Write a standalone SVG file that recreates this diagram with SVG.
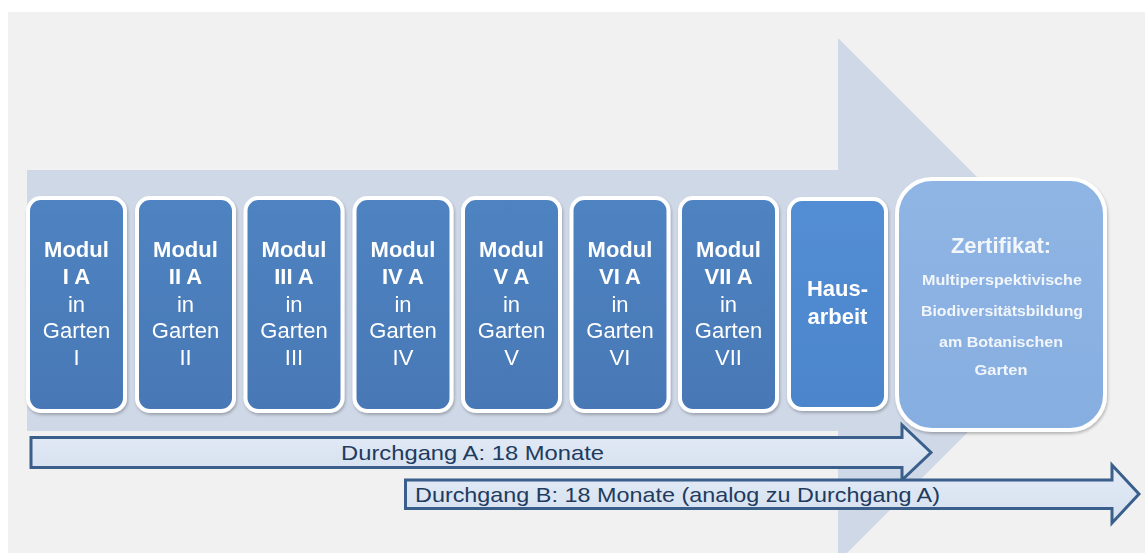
<svg xmlns="http://www.w3.org/2000/svg" width="1145" height="553" viewBox="0 0 1145 553">
<style>
.mod{fill:url(#gMod);stroke:#ffffff;stroke-width:4}
.haus{fill:url(#gHaus);stroke:#ffffff;stroke-width:4}
.zert{fill:url(#gZert);stroke:#ffffff;stroke-width:4}
.dg{fill:url(#gDg);stroke:#3a5f8b;stroke-width:3;stroke-linejoin:miter}
.tb{font-family:"Liberation Sans",Arial,sans-serif;font-weight:bold;font-size:22px;fill:#ffffff;text-anchor:middle}
.tr{font-family:"Liberation Sans",Arial,sans-serif;font-size:22px;fill:#ffffff;text-anchor:middle}
.zs{font-family:"Liberation Sans",Arial,sans-serif;font-weight:bold;font-size:15px;fill:#f2f6fb;text-anchor:middle}
.zt{font-family:"Liberation Sans",Arial,sans-serif;font-weight:bold;font-size:22px;fill:#f2f6fb;text-anchor:middle}
.dt{font-family:"Liberation Sans",Arial,sans-serif;font-size:21px;fill:#1f3b5e}
</style>
<defs>
<linearGradient id="gMod" x1="0" y1="0" x2="0" y2="1"><stop offset="0" stop-color="#4f83c1"/><stop offset="1" stop-color="#4778b5"/></linearGradient>
<linearGradient id="gHaus" x1="0" y1="0" x2="0" y2="1"><stop offset="0" stop-color="#538ed5"/><stop offset="1" stop-color="#4c85cb"/></linearGradient>
<linearGradient id="gZert" x1="0" y1="0" x2="0" y2="1"><stop offset="0" stop-color="#8fb5e4"/><stop offset="1" stop-color="#86aee0"/></linearGradient>
<linearGradient id="gDg" x1="0" y1="0" x2="0" y2="1"><stop offset="0" stop-color="#e3ebf6"/><stop offset="1" stop-color="#d5e0ef"/></linearGradient>
<filter id="sh" x="-10%" y="-10%" width="130%" height="130%"><feGaussianBlur in="SourceAlpha" stdDeviation="1.5"/><feOffset dx="1" dy="1.5" result="b"/><feComponentTransfer><feFuncA type="linear" slope="0.25"/></feComponentTransfer><feMerge><feMergeNode/><feMergeNode in="SourceGraphic"/></feMerge></filter>
</defs>
<rect x="0" y="0" width="1145" height="553" fill="#ffffff"/>
<rect x="8" y="12" width="1137" height="541" fill="#f1f1f1"/>
<g id="connectors">
<polygon id="timeline" points="27,170 838,170 838,38 1100,300 838,562 838,431 27,431" fill="#cfd8e7"/>
</g>
<g id="modul1" filter="url(#sh)"><rect class="mod" x="28" y="198" width="97" height="213" rx="13"/>
<text class="tb" x="76.5" y="257">Modul</text><text class="tb" x="76.5" y="284">I A</text><text class="tr" x="76.5" y="312">in</text><text class="tr" x="76.5" y="338">Garten</text><text class="tr" x="76.5" y="365">I</text></g>
<g id="modul2" filter="url(#sh)"><rect class="mod" x="137" y="198" width="97" height="213" rx="13"/>
<text class="tb" x="185.5" y="257">Modul</text><text class="tb" x="185.5" y="284">II A</text><text class="tr" x="185.5" y="312">in</text><text class="tr" x="185.5" y="338">Garten</text><text class="tr" x="185.5" y="365">II</text></g>
<g id="modul3" filter="url(#sh)"><rect class="mod" x="245.5" y="198" width="97" height="213" rx="13"/>
<text class="tb" x="294" y="257">Modul</text><text class="tb" x="294" y="284">III A</text><text class="tr" x="294" y="312">in</text><text class="tr" x="294" y="338">Garten</text><text class="tr" x="294" y="365">III</text></g>
<g id="modul4" filter="url(#sh)"><rect class="mod" x="354.5" y="198" width="97" height="213" rx="13"/>
<text class="tb" x="403" y="257">Modul</text><text class="tb" x="403" y="284">IV A</text><text class="tr" x="403" y="312">in</text><text class="tr" x="403" y="338">Garten</text><text class="tr" x="403" y="365">IV</text></g>
<g id="modul5" filter="url(#sh)"><rect class="mod" x="463" y="198" width="97" height="213" rx="13"/>
<text class="tb" x="511.5" y="257">Modul</text><text class="tb" x="511.5" y="284">V A</text><text class="tr" x="511.5" y="312">in</text><text class="tr" x="511.5" y="338">Garten</text><text class="tr" x="511.5" y="365">V</text></g>
<g id="modul6" filter="url(#sh)"><rect class="mod" x="571.5" y="198" width="97" height="213" rx="13"/>
<text class="tb" x="620" y="257">Modul</text><text class="tb" x="620" y="284">VI A</text><text class="tr" x="620" y="312">in</text><text class="tr" x="620" y="338">Garten</text><text class="tr" x="620" y="365">VI</text></g>
<g id="modul7" filter="url(#sh)"><rect class="mod" x="680" y="198" width="97" height="213" rx="13"/>
<text class="tb" x="728.5" y="257">Modul</text><text class="tb" x="728.5" y="284">VII A</text><text class="tr" x="728.5" y="312">in</text><text class="tr" x="728.5" y="338">Garten</text><text class="tr" x="728.5" y="365">VII</text></g>
<g id="hausarbeit" filter="url(#sh)"><rect class="haus" x="789" y="199" width="97" height="210" rx="13"/>
<text class="tb" x="837.5" y="296">Haus-</text><text class="tb" x="837.5" y="324">arbeit</text></g>
<g id="zertifikat" filter="url(#sh)"><rect class="zert" x="897" y="179" width="208" height="251" rx="35"/>
<text class="zt" x="1001" y="253">Zertifikat:</text>
<text class="zs" x="1002" y="285" textLength="160" lengthAdjust="spacingAndGlyphs">Multiperspektivische</text>
<text class="zs" x="1002" y="316" textLength="162" lengthAdjust="spacingAndGlyphs">Biodiversitätsbildung</text>
<text class="zs" x="1001" y="347" textLength="124" lengthAdjust="spacingAndGlyphs">am Botanischen</text>
<text class="zs" x="1001" y="375" textLength="53" lengthAdjust="spacingAndGlyphs">Garten</text></g>
<g id="durchgangA"><polygon class="dg" points="31,437.5 902,437.5 902,425 931,452.5 902,480 902,467.5 31,467.5"/>
<text class="dt" x="341" y="460" textLength="263" lengthAdjust="spacingAndGlyphs">Durchgang A: 18 Monate</text></g>
<g id="durchgangB"><polygon class="dg" points="405.5,480 1112,480 1112,465 1139,494 1112,523 1112,508.5 405.5,508.5"/>
<text class="dt" x="415" y="502" textLength="525" lengthAdjust="spacingAndGlyphs">Durchgang B: 18 Monate (analog zu Durchgang A)</text></g>
</svg>
